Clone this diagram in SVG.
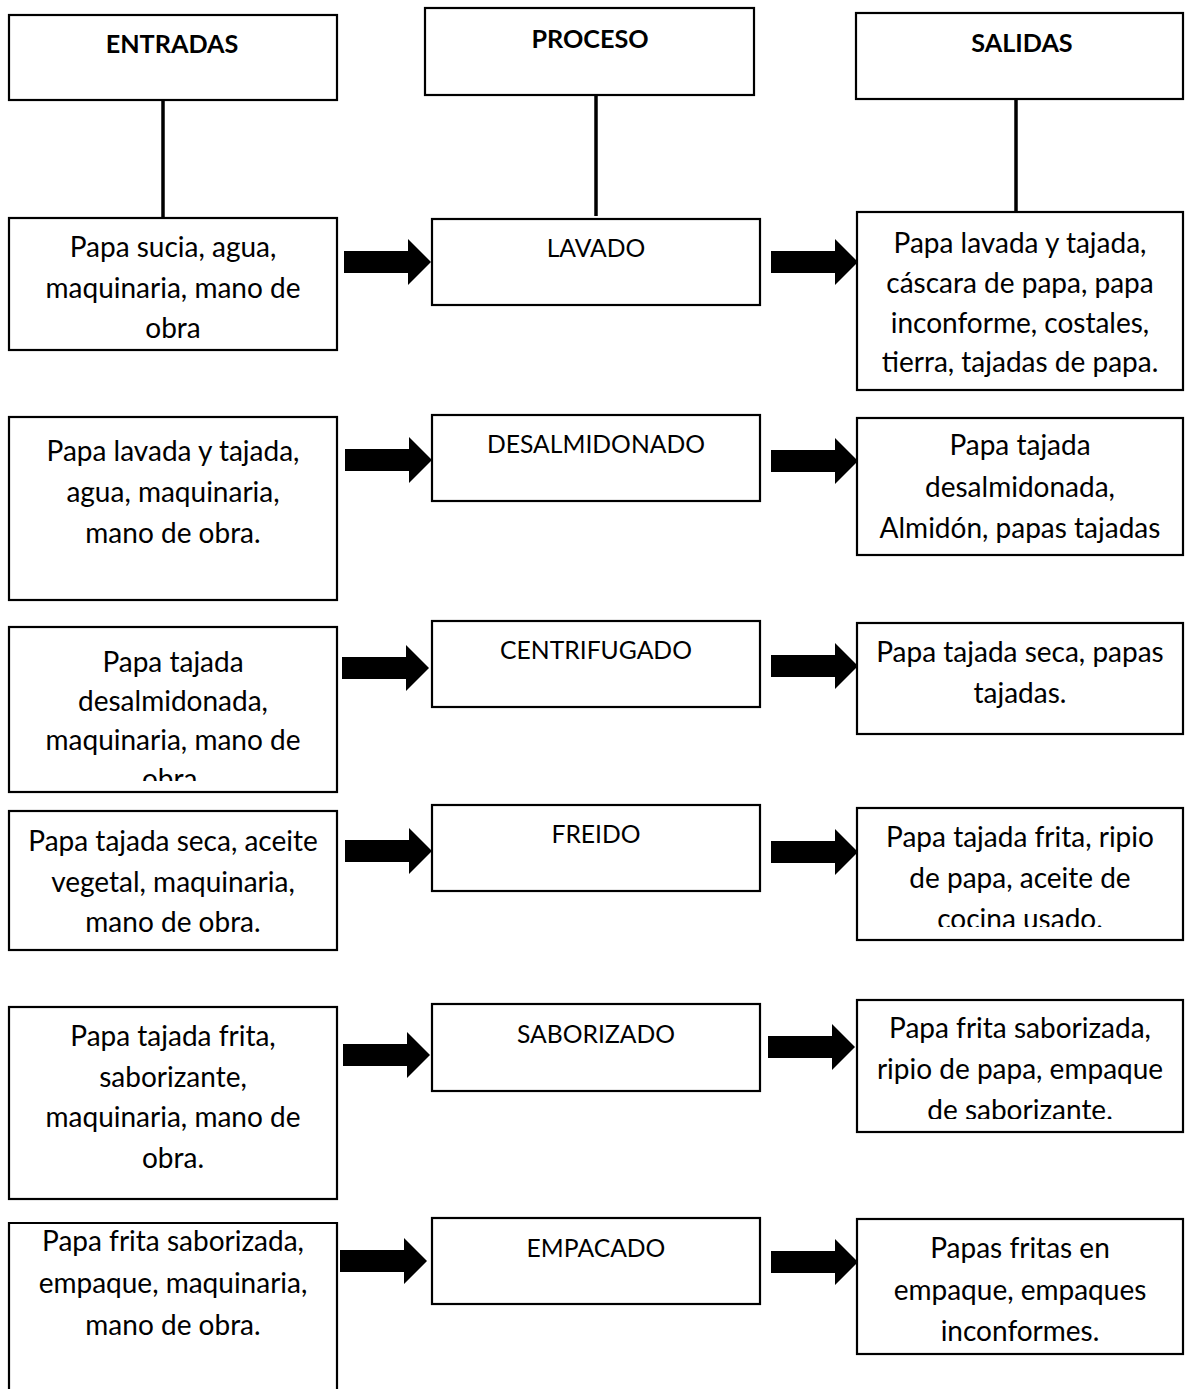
<svg xmlns="http://www.w3.org/2000/svg" width="1186" height="1389" viewBox="0 0 1186 1389">
<style>
.box{fill:#fff;stroke:#000;stroke-width:2.2}
.ln{stroke:#000;stroke-width:3.5;fill:none}
.t{font-family:Lato,"Liberation Sans",sans-serif;font-size:28px;fill:#000;text-anchor:middle}
.h{font-family:Lato,"Liberation Sans",sans-serif;font-size:25.2px;font-weight:bold;fill:#000;text-anchor:middle}
.p{font-family:Lato,"Liberation Sans",sans-serif;font-size:24.7px;fill:#000;text-anchor:middle}
</style>
<defs>
<path id="arr" d="M0,-11 H64 V-23 L87,0 L64,23 V11 H0 Z" fill="#000"/>
<clipPath id="cL3"><rect x="0" y="600" width="400" height="181"/></clipPath>
<clipPath id="cR4"><rect x="840" y="800" width="346" height="127"/></clipPath>
<clipPath id="cR5"><rect x="840" y="990" width="346" height="129"/></clipPath>
</defs>
<rect width="1186" height="1389" fill="#fff"/>
<g id="connectors">
<line class="ln" x1="163" y1="100" x2="163" y2="218"/>
<line class="ln" x1="596" y1="95" x2="596" y2="216"/>
<line class="ln" x1="1016" y1="93" x2="1016" y2="212"/>
<use href="#arr" x="344" y="262"/>
<use href="#arr" x="345" y="460"/>
<use href="#arr" x="342" y="668"/>
<use href="#arr" x="345" y="851"/>
<use href="#arr" x="343" y="1055"/>
<use href="#arr" x="340" y="1261"/>
<use href="#arr" x="771" y="262"/>
<use href="#arr" x="771" y="461"/>
<use href="#arr" x="771" y="666"/>
<use href="#arr" x="771" y="852"/>
<use href="#arr" x="768" y="1047"/>
<use href="#arr" x="771" y="1262"/>
</g>
<g id="h-entradas"><rect class="box" x="9" y="15" width="328" height="85"/><text class="h" x="172" y="53">ENTRADAS</text></g>
<g id="h-proceso"><rect class="box" x="425" y="8" width="329" height="87"/><text class="h" x="590" y="48">PROCESO</text></g>
<g id="h-salidas"><rect class="box" x="856" y="13" width="327" height="86"/><text class="h" x="1022" y="52">SALIDAS</text></g>

<g id="in1"><rect class="box" x="9" y="218" width="328" height="132"/>
<text class="t" x="173" y="257">Papa sucia, agua,</text><text class="t" x="173" y="298">maquinaria, mano de</text><text class="t" x="173" y="338">obra</text></g>
<g id="in2"><rect class="box" x="9" y="417" width="328" height="183"/>
<text class="t" x="173" y="461">Papa lavada y tajada,</text><text class="t" x="173" y="502">agua, maquinaria,</text><text class="t" x="173" y="543">mano de obra.</text></g>
<g id="in3"><rect class="box" x="9" y="627" width="328" height="165"/>
<g clip-path="url(#cL3)"><text class="t" x="173" y="672">Papa tajada</text><text class="t" x="173" y="711">desalmidonada,</text><text class="t" x="173" y="750">maquinaria, mano de</text><text class="t" x="173" y="789">obra.</text></g></g>
<g id="in4"><rect class="box" x="9" y="811" width="328" height="139"/>
<text class="t" x="173" y="851">Papa tajada seca, aceite</text><text class="t" x="173" y="892">vegetal, maquinaria,</text><text class="t" x="173" y="932">mano de obra.</text></g>
<g id="in5"><rect class="box" x="9" y="1007" width="328" height="192"/>
<text class="t" x="173" y="1046">Papa tajada frita,</text><text class="t" x="173" y="1087">saborizante,</text><text class="t" x="173" y="1127">maquinaria, mano de</text><text class="t" x="173" y="1168">obra.</text></g>
<g id="in6"><path class="box" d="M9,1400 V1223 H337 V1400"/>
<text class="t" x="173" y="1251">Papa frita saborizada,</text><text class="t" x="173" y="1293">empaque, maquinaria,</text><text class="t" x="173" y="1335">mano de obra.</text></g>

<g id="p1"><rect class="box" x="432" y="219" width="328" height="86"/><text class="p" x="596" y="257">LAVADO</text></g>
<g id="p2"><rect class="box" x="432" y="415" width="328" height="86"/><text class="p" x="596" y="453">DESALMIDONADO</text></g>
<g id="p3"><rect class="box" x="432" y="621" width="328" height="86"/><text class="p" x="596" y="659">CENTRIFUGADO</text></g>
<g id="p4"><rect class="box" x="432" y="805" width="328" height="86"/><text class="p" x="596" y="843">FREIDO</text></g>
<g id="p5"><rect class="box" x="432" y="1004" width="328" height="87"/><text class="p" x="596" y="1043">SABORIZADO</text></g>
<g id="p6"><rect class="box" x="432" y="1218" width="328" height="86"/><text class="p" x="596" y="1257">EMPACADO</text></g>

<g id="out1"><rect class="box" x="857" y="212" width="326" height="178"/>
<text class="t" x="1020" y="253">Papa lavada y tajada,</text><text class="t" x="1020" y="293">cáscara de papa, papa</text><text class="t" x="1020" y="333">inconforme, costales,</text><text class="t" x="1020" y="372">tierra, tajadas de papa.</text></g>
<g id="out2"><rect class="box" x="857" y="418" width="326" height="137"/>
<text class="t" x="1020" y="455">Papa tajada</text><text class="t" x="1020" y="497">desalmidonada,</text><text class="t" x="1020" y="538">Almidón, papas tajadas</text></g>
<g id="out3"><rect class="box" x="857" y="623" width="326" height="111"/>
<text class="t" x="1020" y="662">Papa tajada seca, papas</text><text class="t" x="1020" y="703">tajadas.</text></g>
<g id="out4"><rect class="box" x="857" y="808" width="326" height="132"/>
<g clip-path="url(#cR4)"><text class="t" x="1020" y="847">Papa tajada frita, ripio</text><text class="t" x="1020" y="888">de papa, aceite de</text><text class="t" x="1020" y="929">cocina usado.</text></g></g>
<g id="out5"><rect class="box" x="857" y="1000" width="326" height="132"/>
<g clip-path="url(#cR5)"><text class="t" x="1020" y="1038">Papa frita saborizada,</text><text class="t" x="1020" y="1079">ripio de papa, empaque</text><text class="t" x="1020" y="1120">de saborizante.</text></g></g>
<g id="out6"><rect class="box" x="857" y="1219" width="326" height="135"/>
<text class="t" x="1020" y="1258">Papas fritas en</text><text class="t" x="1020" y="1300">empaque, empaques</text><text class="t" x="1020" y="1341">inconformes.</text></g>
</svg>
